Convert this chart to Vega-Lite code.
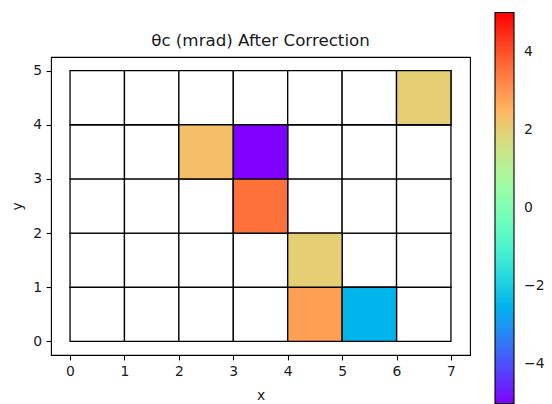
{
  "$schema": "https://vega.github.io/schema/vega-lite/v6.json",
  "width": 419,
  "height": 298,
  "autosize": {"type": "none"},
  "padding": {"left": 51, "top": 57, "right": 82, "bottom": 49},
  "background": "white",
  "config": {
    "font": "DejaVu Sans",
    "view": {"stroke": "black", "strokeWidth": 1.1},
    "axis": {
      "domain": false,
      "grid": false,
      "ticks": true,
      "tickSize": 4.9,
      "tickWidth": 1.1,
      "tickColor": "black",
      "labelFont": "DejaVu Sans",
      "labelFontSize": 13.9,
      "labelColor": "#1a1a1a",
      "labelPadding": 4.5,
      "titleFont": "DejaVu Sans",
      "titleFontSize": 13.9,
      "titleFontWeight": "normal",
      "titleColor": "#1a1a1a"
    }
  },
  "title": {
    "text": "θc (mrad) After Correction",
    "font": "DejaVu Sans",
    "fontSize": 16.7,
    "fontWeight": "normal",
    "color": "#1a1a1a",
    "anchor": "middle",
    "baseline": "alphabetic",
    "offset": 7,
    "dy": 57
  },
  "data": {
    "values": [
      {"x": 0, "x_end": 1, "y": 0, "y_end": 1, "v": null},
      {"x": 1, "x_end": 2, "y": 0, "y_end": 1, "v": null},
      {"x": 2, "x_end": 3, "y": 0, "y_end": 1, "v": null},
      {"x": 3, "x_end": 4, "y": 0, "y_end": 1, "v": null},
      {"x": 4, "x_end": 5, "y": 0, "y_end": 1, "v": 2.85},
      {"x": 5, "x_end": 6, "y": 0, "y_end": 1, "v": -2.5},
      {"x": 6, "x_end": 7, "y": 0, "y_end": 1, "v": null},
      {"x": 0, "x_end": 1, "y": 1, "y_end": 2, "v": null},
      {"x": 1, "x_end": 2, "y": 1, "y_end": 2, "v": null},
      {"x": 2, "x_end": 3, "y": 1, "y_end": 2, "v": null},
      {"x": 3, "x_end": 4, "y": 1, "y_end": 2, "v": null},
      {"x": 4, "x_end": 5, "y": 1, "y_end": 2, "v": 2.0},
      {"x": 5, "x_end": 6, "y": 1, "y_end": 2, "v": null},
      {"x": 6, "x_end": 7, "y": 1, "y_end": 2, "v": null},
      {"x": 0, "x_end": 1, "y": 2, "y_end": 3, "v": null},
      {"x": 1, "x_end": 2, "y": 2, "y_end": 3, "v": null},
      {"x": 2, "x_end": 3, "y": 2, "y_end": 3, "v": null},
      {"x": 3, "x_end": 4, "y": 2, "y_end": 3, "v": 3.55},
      {"x": 4, "x_end": 5, "y": 2, "y_end": 3, "v": null},
      {"x": 5, "x_end": 6, "y": 2, "y_end": 3, "v": null},
      {"x": 6, "x_end": 7, "y": 2, "y_end": 3, "v": null},
      {"x": 0, "x_end": 1, "y": 3, "y_end": 4, "v": null},
      {"x": 1, "x_end": 2, "y": 3, "y_end": 4, "v": null},
      {"x": 2, "x_end": 3, "y": 3, "y_end": 4, "v": 2.3},
      {"x": 3, "x_end": 4, "y": 3, "y_end": 4, "v": -5.0},
      {"x": 4, "x_end": 5, "y": 3, "y_end": 4, "v": null},
      {"x": 5, "x_end": 6, "y": 3, "y_end": 4, "v": null},
      {"x": 6, "x_end": 7, "y": 3, "y_end": 4, "v": null},
      {"x": 0, "x_end": 1, "y": 4, "y_end": 5, "v": null},
      {"x": 1, "x_end": 2, "y": 4, "y_end": 5, "v": null},
      {"x": 2, "x_end": 3, "y": 4, "y_end": 5, "v": null},
      {"x": 3, "x_end": 4, "y": 4, "y_end": 5, "v": null},
      {"x": 4, "x_end": 5, "y": 4, "y_end": 5, "v": null},
      {"x": 5, "x_end": 6, "y": 4, "y_end": 5, "v": null},
      {"x": 6, "x_end": 7, "y": 4, "y_end": 5, "v": 2.0}
    ]
  },
  "encoding": {
    "x": {
      "field": "x",
      "type": "quantitative",
      "scale": {"domain": [-0.35, 7.35], "nice": false, "zero": false},
      "axis": {"values": [0, 1, 2, 3, 4, 5, 6, 7], "title": "x", "titlePadding": 10}
    },
    "x2": {"field": "x_end"},
    "y": {
      "field": "y",
      "type": "quantitative",
      "scale": {"domain": [-0.25, 5.25], "nice": false, "zero": false},
      "axis": {"values": [0, 1, 2, 3, 4, 5], "title": "y", "titlePadding": 8}
    },
    "y2": {"field": "y_end"}
  },
  "layer": [
    {
      "mark": {"type": "rect", "fill": "white", "stroke": "black", "strokeWidth": 1.3}
    },
    {
      "transform": [{"filter": "isValid(datum.v)"}],
      "mark": {"type": "rect", "stroke": "black", "strokeWidth": 1.3, "opacity": 1},
      "encoding": {
        "color": {
          "field": "v",
          "type": "quantitative",
          "scale": {
            "domain": [-5, -4.5, -4, -3.5, -3, -2.5, -2, -1.5, -1, -0.5, 0, 0.5, 1, 1.5, 2, 2.5, 3, 3.5, 4, 4.5, 5],
            "range": ["#8000ff", "#6628fe", "#4d4ffc", "#3374f8", "#1a96f3", "#00b4ec", "#1acee3", "#33e3d9", "#4df3ce", "#66fcc2", "#80ffb4", "#99fca6", "#b3f396", "#cce385", "#e6ce74", "#ffb462", "#ff964f", "#ff743c", "#ff4f28", "#ff2814", "#ff0000"],
            "clamp": true
          },
          "legend": {
            "orient": "none",
            "legendX": 444,
            "legendY": -44.5,
            "direction": "vertical",
            "title": null,
            "gradientLength": 391,
            "gradientThickness": 19,
            "gradientStrokeColor": "black",
            "gradientStrokeWidth": 1.1,
            "values": [-4, -2, 0, 2, 4],
            "labelFont": "DejaVu Sans",
            "labelFontSize": 13.9,
            "labelColor": "#1a1a1a",
            "labelOffset": 10,
            "labelOverlap": false,
            "labelExpr": "replace(datum.label, '-', '−')"
          }
        }
      }
    }
  ]
}
